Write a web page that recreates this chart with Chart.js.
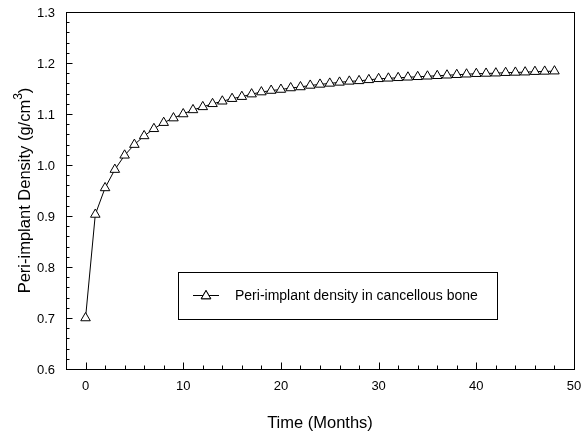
<!DOCTYPE html>
<html>
<head>
<meta charset="utf-8">
<script src="https://cdn.jsdelivr.net/npm/chart.js@4"></script>
<style>
  html, body { margin: 0; padding: 0; background: #fff; }
  #wrap { width: 582px; height: 436px; }
</style>
</head>
<body>
<div id="wrap"><canvas id="densityChart" width="582" height="436"></canvas></div>
<script>
// Data
const months = [0, 1, 2, 3, 4, 5, 6, 7, 8, 9, 10, 11, 12, 13, 14, 15, 16, 17, 18, 19, 20,
    21, 22, 23, 24, 25, 26, 27, 28, 29, 30, 31, 32, 33, 34, 35, 36, 37, 38, 39, 40,
    41, 42, 43, 44, 45, 46, 47, 48];
const density = [0.700, 0.903, 0.955, 0.991, 1.019, 1.040, 1.057, 1.071, 1.083, 1.092, 1.100,
    1.108, 1.114, 1.120, 1.125, 1.130, 1.134, 1.139, 1.143, 1.146, 1.148,
    1.151, 1.153, 1.156, 1.158, 1.160, 1.162, 1.164, 1.165, 1.167, 1.169,
    1.170, 1.171, 1.172, 1.173, 1.174, 1.175, 1.176, 1.177, 1.178, 1.179,
    1.1795, 1.180, 1.181, 1.1815, 1.182, 1.183, 1.1835, 1.184];
const xTicks = [0, 10, 20, 30, 40, 50];
const yTicks = [0.6, 0.7, 0.8, 0.9, 1.0, 1.1, 1.2, 1.3];
const seriesLabel = 'Peri-implant density in cancellous bone';
const xTitle = 'Time (Months)';

const FONT = '"Liberation Sans", Arial, sans-serif';

// Draws frame, inward ticks, tick labels, axis titles and the boxed legend
const framePlugin = {
    id: 'frame',
    beforeDatasetsDraw(chart) {
        const { ctx, chartArea: a, scales: { x, y } } = chart;
        ctx.save();
        ctx.strokeStyle = '#000';
        ctx.lineWidth = 1;

        // minor ticks
        ctx.beginPath();
        for (let v = -2; v <= 50; v += 2) {
            const px = Math.round(x.getPixelForValue(v)) + 0.5;
            ctx.moveTo(px, a.bottom); ctx.lineTo(px, a.bottom - 3.5);
        }
        for (let v = 0.62; v < 1.3; v += 0.02) {
            const py = Math.round(y.getPixelForValue(v)) + 0.5;
            ctx.moveTo(a.left, py); ctx.lineTo(a.left + 3.5, py);
        }
        ctx.stroke();

        // major ticks
        ctx.beginPath();
        xTicks.forEach(v => {
            const px = Math.round(x.getPixelForValue(v)) + 0.5;
            ctx.moveTo(px, a.bottom); ctx.lineTo(px, a.bottom - 6.5);
        });
        yTicks.forEach(v => {
            const py = Math.round(y.getPixelForValue(v)) + 0.5;
            ctx.moveTo(a.left, py); ctx.lineTo(a.left + 6.5, py);
        });
        ctx.stroke();

        // frame
        ctx.strokeRect(Math.round(a.left) + 0.5, Math.round(a.top) + 0.5,
            Math.round(a.right - a.left), Math.round(a.bottom - a.top));

        // tick labels
        ctx.fillStyle = '#000';
        ctx.font = '13px ' + FONT;
        ctx.textAlign = 'center';
        ctx.textBaseline = 'middle';
        xTicks.forEach(v => ctx.fillText(String(v), x.getPixelForValue(v), a.bottom + 17));
        ctx.textAlign = 'right';
        yTicks.forEach(v => ctx.fillText(v.toFixed(1), a.left - 11, y.getPixelForValue(v) + 1));

        // x title
        ctx.font = '16.5px ' + FONT;
        ctx.textAlign = 'center';
        ctx.fillText(xTitle, (a.left + a.right) / 2, 423);

        // y title with superscript
        ctx.save();
        ctx.translate(25, (a.top + a.bottom) / 2);
        ctx.rotate(-Math.PI / 2);
        const main = 'Peri-implant Density (g/cm';
        const sup = '3';
        const close = ')';
        ctx.font = '16.5px ' + FONT;
        const wMain = ctx.measureText(main).width;
        const wClose = ctx.measureText(close).width;
        ctx.font = '12px ' + FONT;
        const wSup = ctx.measureText(sup).width;
        let sx = -(wMain + wSup + wClose) / 2;
        ctx.textAlign = 'left';
        ctx.font = '16.5px ' + FONT;
        ctx.fillText(main, sx, 0);
        sx += wMain;
        ctx.font = '12px ' + FONT;
        ctx.fillText(sup, sx, -6);
        sx += wSup;
        ctx.font = '16.5px ' + FONT;
        ctx.fillText(close, sx, 0);
        ctx.restore();

        ctx.restore();
    },
    afterDraw(chart) {
        const { ctx } = chart;
        const ds = chart.data.datasets[0];
        ctx.save();
        // legend box
        ctx.fillStyle = '#fff';
        ctx.fillRect(178, 272, 319, 47);
        ctx.strokeStyle = '#000';
        ctx.lineWidth = 1;
        ctx.strokeRect(178.5, 272.5, 319, 47);
        // sample line + marker
        ctx.beginPath();
        ctx.moveTo(193, 295.5); ctx.lineTo(219, 295.5);
        ctx.stroke();
        Chart.helpers.drawPoint(ctx, {
            pointStyle: 'triangle', radius: ds.pointRadius, borderWidth: 1, rotation: 0
        }, 206, 296);
        ctx.fillStyle = '#fff';
        ctx.fill();
        ctx.stroke();
        // text
        ctx.fillStyle = '#000';
        ctx.font = '14px ' + FONT;
        ctx.textAlign = 'left';
        ctx.textBaseline = 'middle';
        ctx.fillText(ds.label, 235, 296);
        ctx.restore();
    }
};

new Chart(document.getElementById('densityChart').getContext('2d'), {
    type: 'scatter',
    data: {
        datasets: [{
            label: seriesLabel,
            data: months.map((m, i) => ({ x: m, y: density[i] })),
            showLine: true,
            borderColor: '#000',
            borderWidth: 1,
            pointStyle: 'triangle',
            pointRadius: 5.5,
            pointBackgroundColor: '#fff',
            pointBorderColor: '#000',
            pointBorderWidth: 1,
            tension: 0
        }]
    },
    options: {
        responsive: false,
        animation: false,
        layout: { padding: { left: 66, top: 12, right: 8, bottom: 67 } },
        plugins: { legend: { display: false }, tooltip: { enabled: false } },
        scales: {
            x: { type: 'linear', min: -2, max: 50, display: false },
            y: { type: 'linear', min: 0.6, max: 1.3, display: false }
        }
    },
    plugins: [framePlugin]
});
</script>
</body>
</html>
